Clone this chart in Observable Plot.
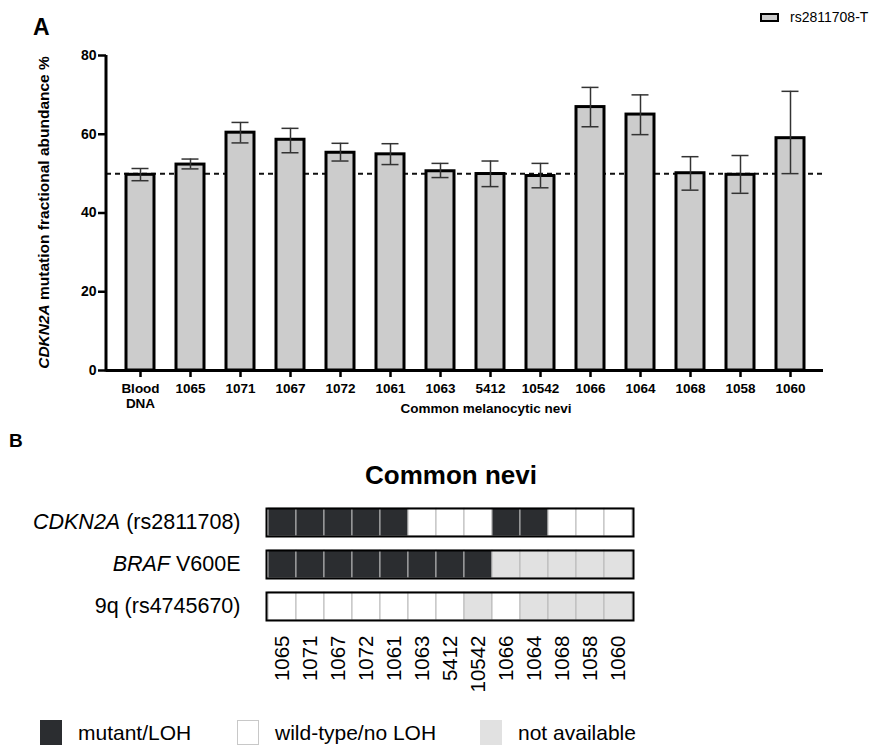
<!DOCTYPE html>
<html>
<head>
<meta charset="utf-8">
<script src="https://cdn.jsdelivr.net/npm/d3@7"></script>
<script src="https://cdn.jsdelivr.net/npm/@observablehq/plot@0.6"></script>
<style>
  html, body { margin: 0; padding: 0; background: #fff; }
  #root { position: relative; width: 873px; height: 745px; overflow: hidden; font-family: "Liberation Sans", Arial, sans-serif; color: #000; }
  .abs { position: absolute; }
  .panel { font-weight: bold; }
  .legB { position: absolute; top: 720px; height: 25px; display: flex; align-items: center; font-size: 21px; }
  .legB .sw { width: 22px; height: 25px; box-sizing: border-box; margin-right: 16px; }
</style>
</head>
<body>
<div id="root">
  <div class="abs panel" style="left:33px;top:14px;font-size:23px;">A</div>
  <div id="legendA" class="abs" style="left:760px;top:9px;display:flex;align-items:center;font-size:14px;"></div>
  <div id="plotA" class="abs" style="left:0;top:0;"></div>
  <div id="xLabelA" class="abs" style="left:486px;top:401px;transform:translateX(-50%);font-size:13.5px;font-weight:bold;white-space:nowrap;"></div>
  <div class="abs panel" style="left:9px;top:430px;font-size:19px;">B</div>
  <div id="titleB" class="abs" style="left:451px;top:460px;transform:translateX(-50%);font-size:26px;font-weight:bold;white-space:nowrap;"></div>
  <div id="plotB" class="abs" style="left:0;top:440px;"></div>
  <div id="legendB"></div>
</div>
<script>
// ---------- Panel A data ----------
const categories = ["Blood DNA", "1065", "1071", "1067", "1072", "1061", "1063", "5412", "10542", "1066", "1064", "1068", "1058", "1060"];
const means   = [49.7, 52.3, 60.4, 58.6, 55.3, 54.9, 50.6, 49.9, 49.4, 66.9, 65.0, 50.1, 49.7, 59.0];
const errLow  = [48.2, 51.2, 57.8, 55.3, 53.2, 52.3, 49.0, 46.7, 46.4, 61.9, 59.9, 45.8, 45.0, 50.0];
const errHigh = [51.3, 53.7, 63.0, 61.5, 57.7, 57.6, 52.6, 53.2, 52.6, 71.9, 70.0, 54.3, 54.6, 70.9];
const referenceLine = [50];
const yTicks = [0, 20, 40, 60, 80];
const seriesName = "rs2811708-T";
const yLabelItalic = "CDKN2A";
const yLabelRest = " mutation fractional abundance %";
const xLabel = "Common melanocytic nevi";

// ---------- Panel B data ----------
const panelBTitle = "Common nevi";
const nevi = ["1065", "1071", "1067", "1072", "1061", "1063", "5412", "10542", "1066", "1064", "1068", "1058", "1060"];
const rowKeys = ["CDKN2A", "BRAF", "9q"];
const rowItalic = ["CDKN2A", "BRAF", ""];
const rowRest = [" (rs2811708)", " V600E", "9q (rs4745670)"];
const statusCDKN2A = ["M", "M", "M", "M", "M", "W", "W", "W", "M", "M", "W", "W", "W"];
const statusBRAF   = ["M", "M", "M", "M", "M", "M", "M", "M", "N", "N", "N", "N", "N"];
const status9q     = ["W", "W", "W", "W", "W", "W", "W", "N", "W", "N", "N", "N", "N"];
const statusCodes = ["M", "W", "N"];
const statusNames = ["mutant/LOH", "wild-type/no LOH", "not available"];
const statusColors = ["#2b2d30", "#ffffff", "#e1e1e1"];

const FONT = '"Liberation Sans", Arial, sans-serif';

// ---------- Panel A ----------
const dataA = categories.map((c, i) => ({name: c, value: means[i], lo: errLow[i], hi: errHigh[i]}));
const plotA = Plot.plot({
  width: 873, height: 430,
  marginTop: 55, marginBottom: 60, marginLeft: 106, marginRight: 50,
  style: {fontFamily: FONT, fontSize: "13px", color: "#000", background: "transparent", overflow: "visible"},
  x: {type: "band", domain: categories, paddingInner: 0.447, paddingOuter: 0.384, axis: null},
  y: {domain: [0, 80], axis: null},
  marks: [
    Plot.ruleY(referenceLine, {stroke: "#111", strokeWidth: 2, strokeDasharray: "5,4"}),
    Plot.barY(dataA, {x: "name", y: "value", fill: "#cccccc", stroke: "#000", strokeWidth: 3}),
    Plot.ruleX(dataA, {x: "name", y1: "lo", y2: "hi", stroke: "#333", strokeWidth: 1.5}),
    Plot.tickY(dataA, {x: "name", y: "lo", stroke: "#333", strokeWidth: 1.5, insetLeft: 5.5, insetRight: 5.5}),
    Plot.tickY(dataA, {x: "name", y: "hi", stroke: "#333", strokeWidth: 1.5, insetLeft: 5.5, insetRight: 5.5}),
    Plot.ruleY([0], {stroke: "#000", strokeWidth: 3}),
    Plot.axisX({tickSize: 7, strokeWidth: 2.5, tickPadding: 4, fontWeight: "bold", fontSize: 13.5, lineHeight: 1.15, label: null,
                tickFormat: d => d.replace(" ", "\n")}),
    Plot.axisY({ticks: yTicks, tickSize: 8, strokeWidth: 2.5, tickPadding: 2, fontWeight: "bold", fontSize: 14, label: null})
  ]
});
document.getElementById("plotA").appendChild(plotA);
{
  const sy = plotA.scale("y");
  const svg = d3.select(plotA);
  svg.append("line")
    .attr("x1", 106).attr("x2", 106)
    .attr("y1", sy.apply(0) + 1.5).attr("y2", sy.apply(80))
    .attr("stroke", "#000").attr("stroke-width", 3);
  const t = svg.append("text")
    .attr("transform", `translate(45,${(sy.apply(0) + sy.apply(80)) / 2}) rotate(-90)`)
    .attr("text-anchor", "middle").attr("dominant-baseline", "middle")
    .attr("font-family", FONT).attr("font-size", 15.5).attr("font-weight", "bold");
  t.append("tspan").attr("font-style", "italic").text(yLabelItalic);
  t.append("tspan").text(yLabelRest);
}
document.getElementById("xLabelA").textContent = xLabel;
{
  const lg = document.getElementById("legendA");
  const sw = document.createElement("span");
  sw.style.cssText = "display:inline-block;width:19px;height:9px;box-sizing:border-box;border:2.5px solid #000;background:#cccccc;margin-right:11px;";
  lg.appendChild(sw);
  lg.appendChild(document.createTextNode(seriesName));
}

// ---------- Panel B ----------
document.getElementById("titleB").textContent = panelBTitle;
const statusRows = [statusCDKN2A, statusBRAF, status9q];
const nameOf = Object.fromEntries(statusCodes.map((c, i) => [c, statusNames[i]]));
const cells = [];
rowKeys.forEach((r, ri) => nevi.forEach((n, ci) => cells.push({row: r, sample: n, status: nameOf[statusRows[ri][ci]]})));

const plotB = Plot.plot({
  width: 873, height: 265,
  marginTop: 67, marginBottom: 84, marginLeft: 266, marginRight: 240,
  style: {fontFamily: FONT, fontSize: "20.5px", color: "#000", background: "transparent", overflow: "visible"},
  facet: {data: cells, y: "row"},
  fy: {domain: rowKeys, paddingInner: 0.33, paddingOuter: 0, axis: "left", tickSize: 0, tickPadding: 26, label: null},
  x: {type: "band", domain: nevi, padding: 0, axis: "bottom", tickRotate: -90, tickSize: 0, tickPadding: 15, label: null},
  color: {domain: statusNames, range: statusColors},
  marks: [
    Plot.cell(cells, {x: "sample", fill: "status", stroke: "#b8b8b8", strokeWidth: 1}),
    Plot.frame({stroke: "#000", strokeWidth: 2})
  ]
});
document.getElementById("plotB").appendChild(plotB);
// Row labels with italic gene names
d3.select(plotB).selectAll('g[aria-label="fy-axis tick label"] text').each(function() {
  const key = this.textContent;
  const i = rowKeys.indexOf(key);
  if (i < 0) return;
  const sel = d3.select(this);
  sel.text("").attr("font-size", 21.5);
  if (rowItalic[i]) sel.append("tspan").attr("font-style", "italic").text(rowItalic[i]);
  sel.append("tspan").text(rowRest[i]);
});

// Bottom legend
{
  const root = document.getElementById("root");
  const xs = [40, 237, 480];
  statusNames.forEach((name, i) => {
    const item = document.createElement("div");
    item.className = "legB";
    item.style.left = xs[i] + "px";
    const sw = document.createElement("span");
    sw.className = "sw";
    sw.style.background = statusColors[i];
    sw.style.border = i === 1 ? "1px solid #c8c8c8" : "none";
    item.appendChild(sw);
    item.appendChild(document.createTextNode(name));
    root.appendChild(item);
  });
}
</script>
</body>
</html>
